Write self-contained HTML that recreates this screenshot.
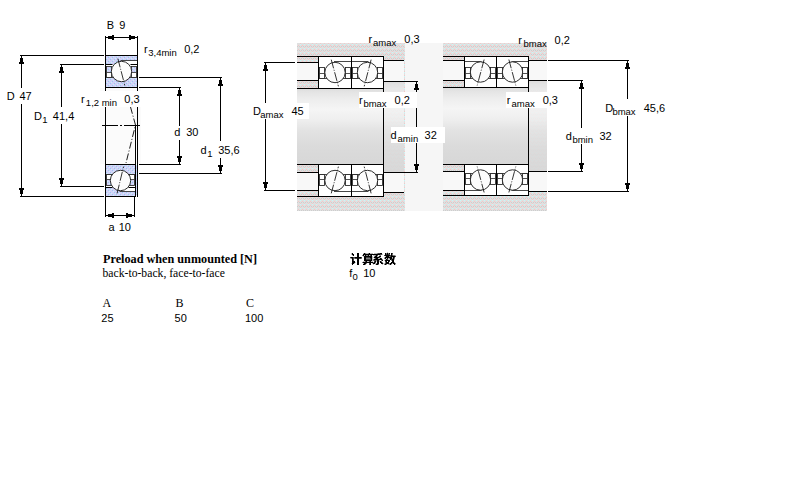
<!DOCTYPE html><html><head><meta charset="utf-8"><style>html,body{margin:0;padding:0;width:800px;height:500px;overflow:hidden;background:#fff}</style></head><body><svg width="800" height="500" viewBox="0 0 800 500" style="position:absolute;left:0;top:0">
<defs><pattern id="bluehatch" patternUnits="userSpaceOnUse" width="4" height="4"><rect width="4" height="4" fill="#d2d0f6"/><rect x="1" y="0" width="1" height="1" fill="#9cc8f2"/><rect x="3" y="2" width="1" height="1" fill="#9cc8f2"/><rect x="0" y="1" width="1" height="1" fill="#c6f6fc"/><rect x="2" y="3" width="1" height="1" fill="#c6f6fc"/></pattern></defs>
<rect width="800" height="500" fill="#fff"/>
<rect x="100" y="88" width="41" height="76" fill="#fbfbfb"/>
<g transform="translate(105,55)" stroke="#000" stroke-width="1" fill="none">
<rect x="0" y="0" width="33" height="33" fill="#fff" stroke="none"/>
<path d="M0,0 H33 V5.5 H16.5 V9.5 H0 Z" fill="url(#bluehatch)" stroke="none"/>
<rect x="0" y="22.5" width="33" height="10.5" fill="url(#bluehatch)" stroke="none"/>
<path d="M15.5,5.5 H33" stroke="#333" stroke-width="0.9"/>
<path d="M0,9.5 H7.5"/>
<rect x="1.5" y="11.5" width="5" height="11" fill="#fff" stroke="#222" stroke-width="0.85"/>
<rect x="26.5" y="11.5" width="5" height="11" fill="#fff" stroke="#222" stroke-width="0.85"/>
<path d="M25.5,9.5 H33"/>
<rect x="2" y="12" width="4" height="5" fill="url(#bluehatch)" stroke="none"/>
<rect x="27" y="12" width="4" height="5" fill="url(#bluehatch)" stroke="none"/>
<path d="M1.5,17.5 H6.5 M26.5,17.5 H31.5" stroke="#333" stroke-width="0.85"/>
<path d="M0,22.5 H33" stroke="#333" stroke-width="0.9"/>
<circle cx="16.5" cy="16.5" r="10.2" fill="#fcfcfc" stroke="#222" stroke-width="0.95"/>
<path d="M12.870000000000001,3.63 L19.8,30.360000000000003" stroke-width="0.8" stroke-dasharray="9,1.5,1,1.5"/>
<rect x="0.5" y="0.5" width="32" height="32"/>
</g>
<g transform="translate(105,164) translate(0,33) scale(1,-1)" stroke="#000" stroke-width="1" fill="none">
<rect x="0" y="0" width="31" height="33" fill="#fff" stroke="none"/>
<path d="M0,0 H31 V5.5 H15.5 V9.5 H0 Z" fill="url(#bluehatch)" stroke="none"/>
<rect x="0" y="22.5" width="31" height="10.5" fill="url(#bluehatch)" stroke="none"/>
<path d="M14.5,5.5 H31" stroke="#333" stroke-width="0.9"/>
<path d="M0,9.5 H7.5"/>
<rect x="1.5" y="11.5" width="5" height="11" fill="#fff" stroke="#222" stroke-width="0.85"/>
<rect x="24.5" y="11.5" width="5" height="11" fill="#fff" stroke="#222" stroke-width="0.85"/>
<path d="M23.5,9.5 H31"/>
<rect x="2" y="12" width="4" height="5" fill="url(#bluehatch)" stroke="none"/>
<rect x="25" y="12" width="4" height="5" fill="url(#bluehatch)" stroke="none"/>
<path d="M1.5,17.5 H6.5 M24.5,17.5 H29.5" stroke="#333" stroke-width="0.85"/>
<path d="M0,22.5 H31" stroke="#333" stroke-width="0.9"/>
<circle cx="15.5" cy="16.5" r="10.2" fill="#fcfcfc" stroke="#222" stroke-width="0.95"/>
<path d="M12.09,3.63 L18.599999999999998,30.360000000000003" stroke-width="0.8" stroke-dasharray="9,1.5,1,1.5"/>
<rect x="0.5" y="0.5" width="30" height="32"/>
</g>
<rect x="100" y="91" width="42" height="16" fill="#fff"/>
<rect x="105" y="88" width="1" height="3" fill="#000"/>
<rect x="137" y="88" width="1" height="3" fill="#000"/>
<rect x="105" y="107" width="1" height="57" fill="#000"/>
<rect x="137" y="107" width="1" height="90" fill="#000"/>
<rect x="135" y="125" width="1" height="39" fill="#000"/>
<rect x="136" y="165" width="1" height="30" fill="url(#bluehatch)"/>
<path d="M102,125.5 H118 M120,125.5 H122 M124,125.5 H140" stroke="#000" stroke-width="1"/>
<path d="M130.5,107 L135.5,125 L126,163" stroke="#000" stroke-width="0.9" fill="none" stroke-dasharray="7,2,1,2"/>
<rect x="105" y="36" width="1" height="19" fill="#000"/>
<rect x="137" y="36" width="1" height="19" fill="#000"/>
<rect x="106" y="37" width="31" height="1" fill="#000"/>
<rect x="106" y="37" width="2" height="1"/>
<rect x="108" y="36" width="4" height="3"/>
<rect x="112" y="35" width="2" height="5"/>
<rect x="135" y="37" width="2" height="1"/>
<rect x="131" y="36" width="4" height="3"/>
<rect x="129" y="35" width="2" height="5"/>
<text x="106.85" y="29" font-family="Liberation Sans" font-size="11">B</text>
<text x="119.28" y="29" font-family="Liberation Sans" font-size="11">9</text>
<text x="143.90" y="53" font-family="Liberation Sans" font-size="11">r</text>
<text x="148.24" y="56" font-family="Liberation Sans" font-size="9.5">3,4min</text>
<text x="184.17" y="53" font-family="Liberation Sans" font-size="11">0,2</text>
<rect x="20" y="55" width="84" height="1" fill="#000"/>
<rect x="20" y="196" width="84" height="1" fill="#000"/>
<rect x="21" y="55" width="1" height="33" fill="#000"/>
<rect x="21" y="104" width="1" height="92" fill="#000"/>
<rect x="21" y="56" width="1" height="2"/>
<rect x="20" y="58" width="3" height="4"/>
<rect x="19" y="62" width="5" height="2"/>
<rect x="21" y="194" width="1" height="2"/>
<rect x="20" y="190" width="3" height="4"/>
<rect x="19" y="188" width="5" height="2"/>
<text x="6.85" y="100" font-family="Liberation Sans" font-size="11">D</text>
<text x="19.50" y="100" font-family="Liberation Sans" font-size="11">47</text>
<rect x="60" y="64" width="44" height="1" fill="#000"/>
<rect x="60" y="186" width="44" height="1" fill="#000"/>
<rect x="61" y="64" width="1" height="43" fill="#000"/>
<rect x="61" y="124" width="1" height="62" fill="#000"/>
<rect x="61" y="65" width="1" height="2"/>
<rect x="60" y="67" width="3" height="4"/>
<rect x="59" y="71" width="5" height="2"/>
<rect x="61" y="184" width="1" height="2"/>
<rect x="60" y="180" width="3" height="4"/>
<rect x="59" y="178" width="5" height="2"/>
<text x="34.10" y="120" font-family="Liberation Sans" font-size="11">D</text>
<text x="42.27" y="122.5" font-family="Liberation Sans" font-size="9.5">1</text>
<text x="52.85" y="120" font-family="Liberation Sans" font-size="11">41,4</text>
<text x="80.90" y="103" font-family="Liberation Sans" font-size="11">r</text>
<text x="85.87" y="106.25" font-family="Liberation Sans" font-size="9.5">1,2 min</text>
<text x="124.37" y="103" font-family="Liberation Sans" font-size="11">0,3</text>
<rect x="139" y="77" width="83" height="1" fill="#000"/>
<rect x="139" y="173" width="83" height="1" fill="#000"/>
<rect x="220" y="77" width="1" height="64" fill="#000"/>
<rect x="220" y="158" width="1" height="15" fill="#000"/>
<rect x="220" y="78" width="1" height="2"/>
<rect x="219" y="80" width="3" height="4"/>
<rect x="218" y="84" width="5" height="2"/>
<rect x="220" y="171" width="1" height="2"/>
<rect x="219" y="167" width="3" height="4"/>
<rect x="218" y="165" width="5" height="2"/>
<text x="200.54" y="154" font-family="Liberation Sans" font-size="11">d</text>
<text x="207.27" y="157" font-family="Liberation Sans" font-size="9.5">1</text>
<text x="218.18" y="154" font-family="Liberation Sans" font-size="11">35,6</text>
<rect x="139" y="87" width="42" height="1" fill="#000"/>
<rect x="139" y="164" width="42" height="1" fill="#000"/>
<rect x="179" y="87" width="1" height="39" fill="#000"/>
<rect x="179" y="140" width="1" height="24" fill="#000"/>
<rect x="179" y="88" width="1" height="2"/>
<rect x="178" y="90" width="3" height="4"/>
<rect x="177" y="94" width="5" height="2"/>
<rect x="179" y="162" width="1" height="2"/>
<rect x="178" y="158" width="3" height="4"/>
<rect x="177" y="156" width="5" height="2"/>
<text x="174.14" y="136" font-family="Liberation Sans" font-size="11">d</text>
<text x="186.18" y="136" font-family="Liberation Sans" font-size="11">30</text>
<rect x="105" y="196" width="1" height="21" fill="#000"/>
<rect x="134" y="196" width="1" height="21" fill="#000"/>
<rect x="106" y="215" width="28" height="1" fill="#000"/>
<rect x="106" y="215" width="2" height="1"/>
<rect x="108" y="214" width="4" height="3"/>
<rect x="112" y="213" width="2" height="5"/>
<rect x="132" y="215" width="2" height="1"/>
<rect x="128" y="214" width="4" height="3"/>
<rect x="126" y="213" width="2" height="5"/>
<text x="108.43" y="231" font-family="Liberation Sans" font-size="11">a</text>
<text x="118.76" y="231" font-family="Liberation Sans" font-size="11">10</text>
<defs><pattern id="hatch" patternUnits="userSpaceOnUse" width="4" height="4"><rect width="4" height="4" fill="#e0e0e0"/><rect x="0" y="0" width="1" height="1" fill="#c4fafa"/><rect x="2" y="1" width="1" height="1" fill="#f6c6c6"/><rect x="1" y="2" width="1" height="1" fill="#cdcdcd"/><rect x="3" y="2" width="1" height="1" fill="#cdcdcd"/><rect x="0" y="3" width="1" height="1" fill="#f6c6c6"/></pattern><linearGradient id="shaft" x1="0" y1="0" x2="0" y2="1"><stop offset="0" stop-color="#dedede"/><stop offset="0.05" stop-color="#e5e5e5"/><stop offset="0.15" stop-color="#eeeeee"/><stop offset="0.27" stop-color="#f5f5f5"/><stop offset="0.42" stop-color="#eeeeee"/><stop offset="0.55" stop-color="#e3e3e3"/><stop offset="0.75" stop-color="#dbdbdb"/><stop offset="1" stop-color="#d7d7d7"/></linearGradient></defs>
<rect x="404" y="43" width="39" height="168" fill="#f6f6f6"/>
<rect x="297" y="43" width="108" height="168" fill="url(#hatch)"/>
<rect x="297" y="89" width="86" height="75" fill="url(#shaft)"/>
<rect x="383" y="82" width="21" height="91" fill="url(#shaft)" opacity="0.9"/>
<rect x="297" y="63" width="21" height="17" fill="#f8f8f8"/>
<rect x="297" y="173" width="21" height="17" fill="#f8f8f8"/>
<rect x="383" y="61" width="21" height="20" fill="#f8f8f8"/>
<rect x="383" y="173" width="21" height="19" fill="#f8f8f8"/>
<rect x="297" y="56" width="21" height="1" fill="#000"/>
<rect x="297" y="62" width="21" height="1" fill="#000"/>
<rect x="297" y="80" width="21" height="1" fill="#000"/>
<rect x="297" y="88" width="21" height="1" fill="#000"/>
<rect x="297" y="164" width="21" height="1" fill="#000"/>
<rect x="297" y="172" width="21" height="1" fill="#000"/>
<rect x="297" y="190" width="21" height="1" fill="#000"/>
<rect x="297" y="196" width="21" height="1" fill="#000"/>
<rect x="383" y="60" width="21" height="1" fill="#000"/>
<rect x="383" y="81" width="21" height="1" fill="#000"/>
<rect x="383" y="172" width="21" height="1" fill="#000"/>
<rect x="383" y="192" width="21" height="1" fill="#000"/>
<rect x="383" y="56" width="1" height="141" fill="#000"/>
<g transform="translate(318,56)" stroke="#000" stroke-width="1" fill="none">
<rect x="0" y="0" width="34" height="33" fill="#fff" stroke="none"/>
<path d="M16.0,5.5 H34" stroke="#333" stroke-width="0.9"/>
<rect x="1.5" y="11.5" width="5" height="11" fill="#fff" stroke="#222" stroke-width="0.85"/>
<rect x="27.5" y="11.5" width="5" height="11" fill="#fff" stroke="#222" stroke-width="0.85"/>
<path d="M1.5,17.5 H6.5 M27.5,17.5 H32.5" stroke="#333" stroke-width="0.85"/>
<path d="M0,22.5 H34" stroke="#333" stroke-width="0.9"/>
<circle cx="17.0" cy="16.5" r="10.2" fill="#fcfcfc" stroke="#222" stroke-width="0.95"/>
<path d="M13.26,3.63 L20.4,30.360000000000003" stroke-width="0.8" stroke-dasharray="9,1.5,1,1.5"/>
<rect x="0.5" y="0.5" width="33" height="32"/>
</g>
<g transform="translate(351,56) translate(33,0) scale(-1,1)" stroke="#000" stroke-width="1" fill="none">
<rect x="0" y="0" width="33" height="33" fill="#fff" stroke="none"/>
<path d="M15.5,5.5 H33" stroke="#333" stroke-width="0.9"/>
<rect x="1.5" y="11.5" width="5" height="11" fill="#fff" stroke="#222" stroke-width="0.85"/>
<rect x="26.5" y="11.5" width="5" height="11" fill="#fff" stroke="#222" stroke-width="0.85"/>
<path d="M1.5,17.5 H6.5 M26.5,17.5 H31.5" stroke="#333" stroke-width="0.85"/>
<path d="M0,22.5 H33" stroke="#333" stroke-width="0.9"/>
<circle cx="16.5" cy="16.5" r="10.2" fill="#fcfcfc" stroke="#222" stroke-width="0.95"/>
<path d="M12.870000000000001,3.63 L19.8,30.360000000000003" stroke-width="0.8" stroke-dasharray="9,1.5,1,1.5"/>
<rect x="0.5" y="0.5" width="32" height="32"/>
</g>
<g transform="translate(318,164) translate(0,33) scale(1,-1)" stroke="#000" stroke-width="1" fill="none">
<rect x="0" y="0" width="34" height="33" fill="#fff" stroke="none"/>
<path d="M16.0,5.5 H34" stroke="#333" stroke-width="0.9"/>
<rect x="1.5" y="11.5" width="5" height="11" fill="#fff" stroke="#222" stroke-width="0.85"/>
<rect x="27.5" y="11.5" width="5" height="11" fill="#fff" stroke="#222" stroke-width="0.85"/>
<path d="M1.5,17.5 H6.5 M27.5,17.5 H32.5" stroke="#333" stroke-width="0.85"/>
<path d="M0,22.5 H34" stroke="#333" stroke-width="0.9"/>
<circle cx="17.0" cy="16.5" r="10.2" fill="#fcfcfc" stroke="#222" stroke-width="0.95"/>
<path d="M13.26,3.63 L20.4,30.360000000000003" stroke-width="0.8" stroke-dasharray="9,1.5,1,1.5"/>
<rect x="0.5" y="0.5" width="33" height="32"/>
</g>
<g transform="translate(351,164) translate(33,0) scale(-1,1) translate(0,33) scale(1,-1)" stroke="#000" stroke-width="1" fill="none">
<rect x="0" y="0" width="33" height="33" fill="#fff" stroke="none"/>
<path d="M15.5,5.5 H33" stroke="#333" stroke-width="0.9"/>
<rect x="1.5" y="11.5" width="5" height="11" fill="#fff" stroke="#222" stroke-width="0.85"/>
<rect x="26.5" y="11.5" width="5" height="11" fill="#fff" stroke="#222" stroke-width="0.85"/>
<path d="M1.5,17.5 H6.5 M26.5,17.5 H31.5" stroke="#333" stroke-width="0.85"/>
<path d="M0,22.5 H33" stroke="#333" stroke-width="0.9"/>
<circle cx="16.5" cy="16.5" r="10.2" fill="#fcfcfc" stroke="#222" stroke-width="0.95"/>
<path d="M12.870000000000001,3.63 L19.8,30.360000000000003" stroke-width="0.8" stroke-dasharray="9,1.5,1,1.5"/>
<rect x="0.5" y="0.5" width="32" height="32"/>
</g>
<rect x="443" y="43" width="104" height="168" fill="url(#hatch)"/>
<rect x="443" y="88" width="85" height="76" fill="url(#shaft)"/>
<rect x="528" y="81" width="19" height="91" fill="url(#shaft)" opacity="0.9"/>
<rect x="443" y="61" width="21" height="19" fill="#f8f8f8"/>
<rect x="443" y="172" width="21" height="18" fill="#f8f8f8"/>
<rect x="528" y="61" width="19" height="19" fill="#f8f8f8"/>
<rect x="528" y="172" width="19" height="19" fill="#f8f8f8"/>
<rect x="443" y="56" width="21" height="1" fill="#000"/>
<rect x="443" y="60" width="21" height="1" fill="#000"/>
<rect x="443" y="80" width="21" height="1" fill="#000"/>
<rect x="443" y="87" width="21" height="1" fill="#000"/>
<rect x="443" y="164" width="21" height="1" fill="#000"/>
<rect x="443" y="171" width="21" height="1" fill="#000"/>
<rect x="443" y="190" width="21" height="1" fill="#000"/>
<rect x="443" y="195" width="21" height="1" fill="#000"/>
<rect x="528" y="60" width="19" height="1" fill="#000"/>
<rect x="528" y="80" width="19" height="1" fill="#000"/>
<rect x="528" y="171" width="19" height="1" fill="#000"/>
<rect x="528" y="191" width="19" height="1" fill="#000"/>
<rect x="528" y="56" width="1" height="140" fill="#000"/>
<g transform="translate(464,56) translate(33,0) scale(-1,1)" stroke="#000" stroke-width="1" fill="none">
<rect x="0" y="0" width="33" height="32" fill="#fff" stroke="none"/>
<path d="M15.5,5.5 H33" stroke="#333" stroke-width="0.9"/>
<rect x="1.5" y="11.5" width="5" height="11" fill="#fff" stroke="#222" stroke-width="0.85"/>
<rect x="26.5" y="11.5" width="5" height="11" fill="#fff" stroke="#222" stroke-width="0.85"/>
<path d="M1.5,17.5 H6.5 M26.5,17.5 H31.5" stroke="#333" stroke-width="0.85"/>
<path d="M0,22.5 H33" stroke="#333" stroke-width="0.9"/>
<circle cx="16.5" cy="16.0" r="10.2" fill="#fcfcfc" stroke="#222" stroke-width="0.95"/>
<path d="M12.870000000000001,3.52 L19.8,29.44" stroke-width="0.8" stroke-dasharray="9,1.5,1,1.5"/>
<rect x="0.5" y="0.5" width="32" height="31"/>
</g>
<g transform="translate(496,56)" stroke="#000" stroke-width="1" fill="none">
<rect x="0" y="0" width="33" height="32" fill="#fff" stroke="none"/>
<path d="M15.5,5.5 H33" stroke="#333" stroke-width="0.9"/>
<rect x="1.5" y="11.5" width="5" height="11" fill="#fff" stroke="#222" stroke-width="0.85"/>
<rect x="26.5" y="11.5" width="5" height="11" fill="#fff" stroke="#222" stroke-width="0.85"/>
<path d="M1.5,17.5 H6.5 M26.5,17.5 H31.5" stroke="#333" stroke-width="0.85"/>
<path d="M0,22.5 H33" stroke="#333" stroke-width="0.9"/>
<circle cx="16.5" cy="16.0" r="10.2" fill="#fcfcfc" stroke="#222" stroke-width="0.95"/>
<path d="M12.870000000000001,3.52 L19.8,29.44" stroke-width="0.8" stroke-dasharray="9,1.5,1,1.5"/>
<rect x="0.5" y="0.5" width="32" height="31"/>
</g>
<g transform="translate(464,164) translate(33,0) scale(-1,1) translate(0,32) scale(1,-1)" stroke="#000" stroke-width="1" fill="none">
<rect x="0" y="0" width="33" height="32" fill="#fff" stroke="none"/>
<path d="M15.5,5.5 H33" stroke="#333" stroke-width="0.9"/>
<rect x="1.5" y="11.5" width="5" height="11" fill="#fff" stroke="#222" stroke-width="0.85"/>
<rect x="26.5" y="11.5" width="5" height="11" fill="#fff" stroke="#222" stroke-width="0.85"/>
<path d="M1.5,17.5 H6.5 M26.5,17.5 H31.5" stroke="#333" stroke-width="0.85"/>
<path d="M0,22.5 H33" stroke="#333" stroke-width="0.9"/>
<circle cx="16.5" cy="16.0" r="10.2" fill="#fcfcfc" stroke="#222" stroke-width="0.95"/>
<path d="M12.870000000000001,3.52 L19.8,29.44" stroke-width="0.8" stroke-dasharray="9,1.5,1,1.5"/>
<rect x="0.5" y="0.5" width="32" height="31"/>
</g>
<g transform="translate(496,164) translate(0,32) scale(1,-1)" stroke="#000" stroke-width="1" fill="none">
<rect x="0" y="0" width="33" height="32" fill="#fff" stroke="none"/>
<path d="M15.5,5.5 H33" stroke="#333" stroke-width="0.9"/>
<rect x="1.5" y="11.5" width="5" height="11" fill="#fff" stroke="#222" stroke-width="0.85"/>
<rect x="26.5" y="11.5" width="5" height="11" fill="#fff" stroke="#222" stroke-width="0.85"/>
<path d="M1.5,17.5 H6.5 M26.5,17.5 H31.5" stroke="#333" stroke-width="0.85"/>
<path d="M0,22.5 H33" stroke="#333" stroke-width="0.9"/>
<circle cx="16.5" cy="16.0" r="10.2" fill="#fcfcfc" stroke="#222" stroke-width="0.95"/>
<path d="M12.870000000000001,3.52 L19.8,29.44" stroke-width="0.8" stroke-dasharray="9,1.5,1,1.5"/>
<rect x="0.5" y="0.5" width="32" height="31"/>
</g>
<rect x="264" y="62" width="31" height="1" fill="#000"/>
<rect x="264" y="190" width="31" height="1" fill="#000"/>
<rect x="265" y="62" width="1" height="41" fill="#000"/>
<rect x="265" y="119" width="1" height="71" fill="#000"/>
<rect x="265" y="63" width="1" height="2"/>
<rect x="264" y="65" width="3" height="4"/>
<rect x="263" y="69" width="5" height="2"/>
<rect x="265" y="188" width="1" height="2"/>
<rect x="264" y="184" width="3" height="4"/>
<rect x="263" y="182" width="5" height="2"/>
<rect x="404" y="81" width="14" height="1" fill="#000"/>
<rect x="404" y="172" width="14" height="1" fill="#000"/>
<rect x="416" y="81" width="1" height="46" fill="#000"/>
<rect x="416" y="143" width="1" height="29" fill="#000"/>
<rect x="416" y="82" width="1" height="2"/>
<rect x="415" y="84" width="3" height="4"/>
<rect x="414" y="88" width="5" height="2"/>
<rect x="416" y="170" width="1" height="2"/>
<rect x="415" y="166" width="3" height="4"/>
<rect x="414" y="164" width="5" height="2"/>
<text x="368.40" y="43" font-family="Liberation Sans" font-size="11">r</text>
<text x="373.09" y="46" font-family="Liberation Sans" font-size="9.5">amax</text>
<text x="404.37" y="43" font-family="Liberation Sans" font-size="11">0,3</text>
<rect x="359" y="92" width="58" height="16" fill="#fff"/>
<text x="358.90" y="104" font-family="Liberation Sans" font-size="11">r</text>
<text x="363.39" y="107" font-family="Liberation Sans" font-size="9.5">bmax</text>
<text x="394.57" y="104" font-family="Liberation Sans" font-size="11">0,2</text>
<rect x="250" y="103" width="59" height="16" fill="#fff"/>
<text x="253.10" y="115" font-family="Liberation Sans" font-size="11">D</text>
<text x="260.29" y="118" font-family="Liberation Sans" font-size="9.5">amax</text>
<text x="291.50" y="115" font-family="Liberation Sans" font-size="11">45</text>
<rect x="391" y="127" width="54" height="16" fill="#fff"/>
<text x="390.54" y="139" font-family="Liberation Sans" font-size="11">d</text>
<text x="397.59" y="142" font-family="Liberation Sans" font-size="9.5">amin</text>
<text x="424.58" y="139" font-family="Liberation Sans" font-size="11">32</text>
<rect x="548" y="60" width="81" height="1" fill="#000"/>
<rect x="548" y="191" width="81" height="1" fill="#000"/>
<rect x="627" y="60" width="1" height="39" fill="#000"/>
<rect x="627" y="116" width="1" height="75" fill="#000"/>
<rect x="627" y="61" width="1" height="2"/>
<rect x="626" y="63" width="3" height="4"/>
<rect x="625" y="67" width="5" height="2"/>
<rect x="627" y="189" width="1" height="2"/>
<rect x="626" y="185" width="3" height="4"/>
<rect x="625" y="183" width="5" height="2"/>
<rect x="548" y="80" width="35" height="1" fill="#000"/>
<rect x="548" y="171" width="35" height="1" fill="#000"/>
<rect x="581" y="80" width="1" height="48" fill="#000"/>
<rect x="581" y="144" width="1" height="27" fill="#000"/>
<rect x="581" y="81" width="1" height="2"/>
<rect x="580" y="83" width="3" height="4"/>
<rect x="579" y="87" width="5" height="2"/>
<rect x="581" y="169" width="1" height="2"/>
<rect x="580" y="165" width="3" height="4"/>
<rect x="579" y="163" width="5" height="2"/>
<text x="518.30" y="44" font-family="Liberation Sans" font-size="11">r</text>
<text x="523.59" y="47" font-family="Liberation Sans" font-size="9.5">bmax</text>
<text x="554.57" y="44" font-family="Liberation Sans" font-size="11">0,2</text>
<rect x="506" y="92" width="54" height="16" fill="#fff"/>
<text x="506.65" y="103.5" font-family="Liberation Sans" font-size="11">r</text>
<text x="511.59" y="107" font-family="Liberation Sans" font-size="9.5">amax</text>
<text x="542.67" y="103.5" font-family="Liberation Sans" font-size="11">0,3</text>
<text x="605.20" y="112" font-family="Liberation Sans" font-size="11">D</text>
<text x="612.39" y="114.5" font-family="Liberation Sans" font-size="9.5">bmax</text>
<text x="643.65" y="112" font-family="Liberation Sans" font-size="11">45,6</text>
<text x="565.74" y="140" font-family="Liberation Sans" font-size="11">d</text>
<text x="572.39" y="142.7" font-family="Liberation Sans" font-size="9.5">bmin</text>
<text x="599.48" y="140" font-family="Liberation Sans" font-size="11">32</text>
<text x="103" y="263" font-family="Liberation Serif" font-size="12" font-weight="bold" textLength="154" lengthAdjust="spacingAndGlyphs">Preload when unmounted [N]</text>
<text x="102.5" y="277" font-family="Liberation Serif" font-size="12" textLength="122.4" lengthAdjust="spacingAndGlyphs">back-to-back, face-to-face</text>
<text x="102.5" y="307" font-family="Liberation Serif" font-size="12" font-weight="normal" text-anchor="start">A</text>
<text x="175.5" y="307" font-family="Liberation Serif" font-size="12" font-weight="normal" text-anchor="start">B</text>
<text x="246" y="307" font-family="Liberation Serif" font-size="12" font-weight="normal" text-anchor="start">C</text>
<text x="101.3" y="322" font-family="Liberation Sans" font-size="11" font-weight="normal" text-anchor="start">25</text>
<text x="174.6" y="322" font-family="Liberation Sans" font-size="11" font-weight="normal" text-anchor="start">50</text>
<text x="245" y="322" font-family="Liberation Sans" font-size="11" font-weight="normal" text-anchor="start">100</text>
<text x="349.24" y="277" font-family="Liberation Sans" font-size="11">f</text>
<text x="352.53" y="279.5" font-family="Liberation Sans" font-size="9.5">0</text>
<text x="363.16" y="277" font-family="Liberation Sans" font-size="11">10</text>
<path fill-opacity="0.25" d="M351 253h1v1h-1zM351 254h1v1h-1zM352 255h1v1h-1zM350 258h1v1h-1zM355 262h1v1h-1zM351 263h1v1h-1zM354 263h1v1h-1zM363 253h1v1h-1zM366 253h1v1h-1zM367 253h1v1h-1zM370 253h1v1h-1zM371 253h1v1h-1zM372 253h1v1h-1zM364 255h1v1h-1zM369 255h1v1h-1zM363 256h1v1h-1zM372 256h1v1h-1zM372 257h1v1h-1zM372 258h1v1h-1zM372 259h1v1h-1zM372 260h1v1h-1zM363 261h1v1h-1zM364 261h1v1h-1zM367 261h1v1h-1zM368 261h1v1h-1zM371 261h1v1h-1zM372 261h1v1h-1zM363 263h1v1h-1zM374 253h1v1h-1zM375 253h1v1h-1zM376 253h1v1h-1zM382 254h1v1h-1zM373 255h1v1h-1zM374 255h1v1h-1zM379 255h1v1h-1zM377 256h1v1h-1zM378 256h1v1h-1zM373 257h1v1h-1zM380 257h1v1h-1zM374 258h1v1h-1zM378 258h1v1h-1zM379 258h1v1h-1zM379 260h1v1h-1zM376 261h1v1h-1zM379 261h1v1h-1zM372 263h1v1h-1zM375 263h1v1h-1zM383 263h1v1h-1zM373 264h1v1h-1zM375 264h1v1h-1zM382 264h1v1h-1zM387 252h1v1h-1zM395 255h1v1h-1zM385 256h1v1h-1zM384 257h1v1h-1zM392 257h1v1h-1zM386 258h1v1h-1zM388 258h1v1h-1zM385 259h1v1h-1zM388 259h1v1h-1zM389 259h1v1h-1zM394 259h1v1h-1zM384 260h1v1h-1zM384 263h1v1h-1zM392 263h1v1h-1zM388 264h1v1h-1zM391 264h1v1h-1zM395 264h1v1h-1z"/><path fill-opacity="0.5" d="M351 258h1v1h-1zM354 258h1v1h-1zM361 258h1v1h-1zM365 253h1v1h-1zM368 253h1v1h-1zM373 254h1v1h-1zM362 255h1v1h-1zM366 255h1v1h-1zM367 255h1v1h-1zM366 258h1v1h-1zM367 258h1v1h-1zM368 258h1v1h-1zM369 258h1v1h-1zM362 262h1v1h-1zM373 262h1v1h-1zM366 263h1v1h-1zM365 264h1v1h-1zM377 253h1v1h-1zM375 255h1v1h-1zM380 255h1v1h-1zM374 256h1v1h-1zM373 259h1v1h-1zM382 259h1v1h-1zM373 260h1v1h-1zM376 260h1v1h-1zM381 260h1v1h-1zM381 261h1v1h-1zM373 262h1v1h-1zM382 262h1v1h-1zM376 263h1v1h-1zM378 264h1v1h-1zM386 253h1v1h-1zM388 253h1v1h-1zM392 254h1v1h-1zM393 255h1v1h-1zM394 255h1v1h-1zM389 256h1v1h-1zM384 258h1v1h-1zM389 258h1v1h-1zM392 258h1v1h-1zM394 258h1v1h-1zM391 260h1v1h-1zM385 262h1v1h-1zM394 262h1v1h-1zM389 263h1v1h-1zM395 263h1v1h-1zM384 264h1v1h-1zM386 264h1v1h-1zM389 264h1v1h-1z"/><path fill-opacity="0.75" d="M350 257h1v1h-1zM353 257h1v1h-1zM354 257h1v1h-1zM361 257h1v1h-1zM353 258h1v1h-1zM355 258h1v1h-1zM356 258h1v1h-1zM359 258h1v1h-1zM360 258h1v1h-1zM353 259h1v1h-1zM353 260h1v1h-1zM370 255h1v1h-1zM366 257h1v1h-1zM367 257h1v1h-1zM368 257h1v1h-1zM369 257h1v1h-1zM370 258h1v1h-1zM366 259h1v1h-1zM367 259h1v1h-1zM368 259h1v1h-1zM369 259h1v1h-1zM370 259h1v1h-1zM365 261h1v1h-1zM369 261h1v1h-1zM369 263h1v1h-1zM369 264h1v1h-1zM378 253h1v1h-1zM379 253h1v1h-1zM380 254h1v1h-1zM381 254h1v1h-1zM377 255h1v1h-1zM379 257h1v1h-1zM375 258h1v1h-1zM381 258h1v1h-1zM374 260h1v1h-1zM375 260h1v1h-1zM374 261h1v1h-1zM375 262h1v1h-1zM392 253h1v1h-1zM386 254h1v1h-1zM388 254h1v1h-1zM389 254h1v1h-1zM384 255h1v1h-1zM390 255h1v1h-1zM392 255h1v1h-1zM390 256h1v1h-1zM395 256h1v1h-1zM394 257h1v1h-1zM387 259h1v1h-1zM391 259h1v1h-1zM385 261h1v1h-1zM389 261h1v1h-1zM385 263h1v1h-1z"/><path fill-opacity="1.0" d="M352 253h1v1h-1zM357 253h1v1h-1zM358 253h1v1h-1zM352 254h1v1h-1zM353 254h1v1h-1zM357 254h1v1h-1zM358 254h1v1h-1zM353 255h1v1h-1zM357 255h1v1h-1zM358 255h1v1h-1zM357 256h1v1h-1zM358 256h1v1h-1zM351 257h1v1h-1zM352 257h1v1h-1zM355 257h1v1h-1zM356 257h1v1h-1zM357 257h1v1h-1zM358 257h1v1h-1zM359 257h1v1h-1zM360 257h1v1h-1zM352 258h1v1h-1zM357 258h1v1h-1zM358 258h1v1h-1zM352 259h1v1h-1zM357 259h1v1h-1zM358 259h1v1h-1zM352 260h1v1h-1zM357 260h1v1h-1zM358 260h1v1h-1zM352 261h1v1h-1zM353 261h1v1h-1zM354 261h1v1h-1zM357 261h1v1h-1zM358 261h1v1h-1zM352 262h1v1h-1zM353 262h1v1h-1zM354 262h1v1h-1zM357 262h1v1h-1zM358 262h1v1h-1zM352 263h1v1h-1zM353 263h1v1h-1zM357 263h1v1h-1zM358 263h1v1h-1zM352 264h1v1h-1zM357 264h1v1h-1zM358 264h1v1h-1zM364 253h1v1h-1zM369 253h1v1h-1zM363 254h1v1h-1zM364 254h1v1h-1zM365 254h1v1h-1zM366 254h1v1h-1zM367 254h1v1h-1zM368 254h1v1h-1zM369 254h1v1h-1zM370 254h1v1h-1zM371 254h1v1h-1zM372 254h1v1h-1zM363 255h1v1h-1zM365 255h1v1h-1zM368 255h1v1h-1zM371 255h1v1h-1zM364 256h1v1h-1zM365 256h1v1h-1zM366 256h1v1h-1zM367 256h1v1h-1zM368 256h1v1h-1zM369 256h1v1h-1zM370 256h1v1h-1zM371 256h1v1h-1zM364 257h1v1h-1zM365 257h1v1h-1zM370 257h1v1h-1zM371 257h1v1h-1zM364 258h1v1h-1zM365 258h1v1h-1zM371 258h1v1h-1zM364 259h1v1h-1zM365 259h1v1h-1zM371 259h1v1h-1zM364 260h1v1h-1zM365 260h1v1h-1zM366 260h1v1h-1zM367 260h1v1h-1zM368 260h1v1h-1zM369 260h1v1h-1zM370 260h1v1h-1zM371 260h1v1h-1zM366 261h1v1h-1zM370 261h1v1h-1zM363 262h1v1h-1zM364 262h1v1h-1zM365 262h1v1h-1zM366 262h1v1h-1zM367 262h1v1h-1zM368 262h1v1h-1zM369 262h1v1h-1zM370 262h1v1h-1zM371 262h1v1h-1zM372 262h1v1h-1zM364 263h1v1h-1zM365 263h1v1h-1zM370 263h1v1h-1zM363 264h1v1h-1zM364 264h1v1h-1zM370 264h1v1h-1zM380 253h1v1h-1zM381 253h1v1h-1zM373 254h1v1h-1zM374 254h1v1h-1zM375 254h1v1h-1zM376 254h1v1h-1zM377 254h1v1h-1zM378 254h1v1h-1zM379 254h1v1h-1zM376 255h1v1h-1zM375 256h1v1h-1zM376 256h1v1h-1zM379 256h1v1h-1zM380 256h1v1h-1zM374 257h1v1h-1zM375 257h1v1h-1zM376 257h1v1h-1zM377 257h1v1h-1zM378 257h1v1h-1zM376 258h1v1h-1zM377 258h1v1h-1zM380 258h1v1h-1zM374 259h1v1h-1zM375 259h1v1h-1zM376 259h1v1h-1zM377 259h1v1h-1zM378 259h1v1h-1zM379 259h1v1h-1zM380 259h1v1h-1zM381 259h1v1h-1zM377 260h1v1h-1zM378 260h1v1h-1zM382 260h1v1h-1zM375 261h1v1h-1zM377 261h1v1h-1zM378 261h1v1h-1zM380 261h1v1h-1zM374 262h1v1h-1zM377 262h1v1h-1zM378 262h1v1h-1zM380 262h1v1h-1zM381 262h1v1h-1zM373 263h1v1h-1zM374 263h1v1h-1zM377 263h1v1h-1zM378 263h1v1h-1zM381 263h1v1h-1zM382 263h1v1h-1zM376 264h1v1h-1zM377 264h1v1h-1zM385 253h1v1h-1zM387 253h1v1h-1zM389 253h1v1h-1zM391 253h1v1h-1zM385 254h1v1h-1zM387 254h1v1h-1zM391 254h1v1h-1zM385 255h1v1h-1zM386 255h1v1h-1zM387 255h1v1h-1zM388 255h1v1h-1zM389 255h1v1h-1zM391 255h1v1h-1zM386 256h1v1h-1zM387 256h1v1h-1zM388 256h1v1h-1zM391 256h1v1h-1zM392 256h1v1h-1zM393 256h1v1h-1zM394 256h1v1h-1zM385 257h1v1h-1zM386 257h1v1h-1zM387 257h1v1h-1zM388 257h1v1h-1zM389 257h1v1h-1zM390 257h1v1h-1zM391 257h1v1h-1zM393 257h1v1h-1zM385 258h1v1h-1zM387 258h1v1h-1zM390 258h1v1h-1zM391 258h1v1h-1zM393 258h1v1h-1zM386 259h1v1h-1zM390 259h1v1h-1zM392 259h1v1h-1zM393 259h1v1h-1zM385 260h1v1h-1zM386 260h1v1h-1zM387 260h1v1h-1zM388 260h1v1h-1zM389 260h1v1h-1zM392 260h1v1h-1zM393 260h1v1h-1zM386 261h1v1h-1zM388 261h1v1h-1zM392 261h1v1h-1zM393 261h1v1h-1zM386 262h1v1h-1zM387 262h1v1h-1zM388 262h1v1h-1zM391 262h1v1h-1zM392 262h1v1h-1zM393 262h1v1h-1zM386 263h1v1h-1zM387 263h1v1h-1zM388 263h1v1h-1zM390 263h1v1h-1zM391 263h1v1h-1zM393 263h1v1h-1zM394 263h1v1h-1zM385 264h1v1h-1zM390 264h1v1h-1zM394 264h1v1h-1z"/>
</svg></body></html>
